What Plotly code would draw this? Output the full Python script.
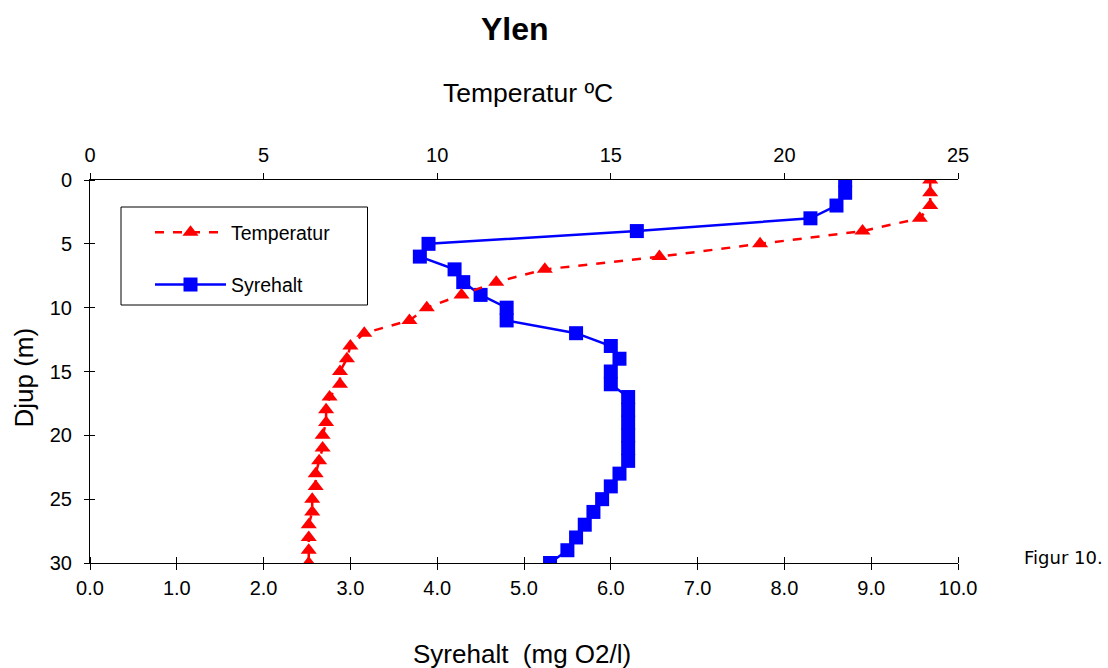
import plotly.graph_objects as go

depth = list(range(0, 31))
temperatur = [24.2, 24.2, 24.2, 23.9, 22.25, 19.3, 16.4, 13.1, 11.7, 10.7, 9.7,
              9.2, 7.9, 7.5, 7.4, 7.2, 7.2, 6.9, 6.8, 6.8, 6.7, 6.7, 6.6, 6.5,
              6.5, 6.4, 6.4, 6.3, 6.3, 6.3, 6.3]
syrehalt = [8.7, 8.7, 8.6, 8.3, 6.3, 3.9, 3.8, 4.2, 4.3, 4.5, 4.8,
            4.8, 5.6, 6.0, 6.1, 6.0, 6.0, 6.2, 6.2, 6.2, 6.2, 6.2, 6.2, 6.1,
            6.0, 5.9, 5.8, 5.7, 5.6, 5.5, 5.3]

syre_ticks = [i * 1.0 for i in range(0, 11)]
temp_ticks = [0, 5, 10, 15, 20, 25]
depth_ticks = [0, 5, 10, 15, 20, 25, 30]

FONT = "Liberation Sans, Arial, sans-serif"

# plot area in pixels: x 90..958, y 180..563
PL, PR, PT, PB = 90, 958, 180, 563
def px(x):
    return (x - PL) / (PR - PL)
def py(y):
    return (PB - y) / (PB - PT)

fig = go.Figure()
fig.add_trace(go.Scatter(
    x=temperatur, y=depth, xaxis="x2", yaxis="y", name="Temperatur",
    mode="lines+markers", legendgroup="t",
    line=dict(color="#ff0000", width=2.5, dash="dash"),
    marker=dict(symbol="triangle-up", size=14, color="#ff0000"),
))
fig.add_trace(go.Scatter(
    x=syrehalt, y=depth, xaxis="x", yaxis="y", name="Syrehalt",
    mode="lines+markers", legendgroup="s",
    line=dict(color="#0000ff", width=2.5),
    marker=dict(symbol="square", size=14, color="#0000ff"),
))

def axis_common(size, ticklen, standoff):
    return dict(showgrid=False, zeroline=False, showline=True, linecolor="#000000",
                linewidth=1, ticks="outside", ticklen=ticklen, tickcolor="#000000",
                ticklabelstandoff=standoff,
                tickfont=dict(family=FONT, size=size, color="#000000"))

fig.update_layout(
    width=1108, height=668,
    margin=dict(l=PL, r=1108 - PR, t=PT, b=668 - PB),
    paper_bgcolor="white", plot_bgcolor="white",
    showlegend=True,
    xaxis=dict(range=[0, 10], tickvals=syre_ticks, tickformat=".1f", side="bottom",
               minor=dict(ticks="inside", tickvals=syre_ticks, ticklen=6, tickcolor="#000000"),
               **axis_common(20, 6, 1)),
    xaxis2=dict(range=[0, 25], tickvals=temp_ticks, overlaying="x", side="top",
                **axis_common(20, 6, 3)),
    yaxis=dict(range=[30, 0], tickvals=depth_ticks,
               minor=dict(ticks="inside", tickvals=depth_ticks, ticklen=5, tickcolor="#000000"),
               **axis_common(20, 5, 8)),
    legend=dict(x=px(150), y=py(213), xanchor="left", yanchor="top",
                borderwidth=0, bgcolor="rgba(0,0,0,0)",
                font=dict(family=FONT, size=19.5, color="#000000"),
                itemwidth=71, tracegroupgap=24, traceorder="grouped"),
    shapes=[dict(type="rect", xref="paper", yref="paper",
                 x0=px(121), x1=px(367.5), y0=py(305), y1=py(207),
                 line=dict(color="#000000", width=1), layer="below")],
    annotations=[
        dict(text="<b>Ylen</b>", x=px(514.5), y=py(29), xref="paper", yref="paper",
             showarrow=False, xanchor="center", yanchor="middle",
             font=dict(family=FONT, size=32, color="#000000")),
        dict(text="Temperatur ºC", x=px(528), y=py(93), xref="paper", yref="paper",
             showarrow=False, xanchor="center", yanchor="middle",
             font=dict(family=FONT, size=26.5, color="#000000")),
        dict(text="Syrehalt  (mg O2/l)", x=px(522), y=py(654), xref="paper", yref="paper",
             showarrow=False, xanchor="center", yanchor="middle",
             font=dict(family=FONT, size=26, color="#000000")),
        dict(text="Djup (m)", x=px(23), y=py(377.5), xref="paper", yref="paper",
             showarrow=False, xanchor="center", yanchor="middle", textangle=-90,
             font=dict(family=FONT, size=26, color="#000000")),
        dict(text="Figur 10.", x=px(1022), y=py(557), xref="paper", yref="paper",
             showarrow=False, xanchor="left", yanchor="middle",
             font=dict(family="DejaVu Sans, sans-serif", size=18, color="#000000")),
    ],
)

fig.write_html("out.html")
